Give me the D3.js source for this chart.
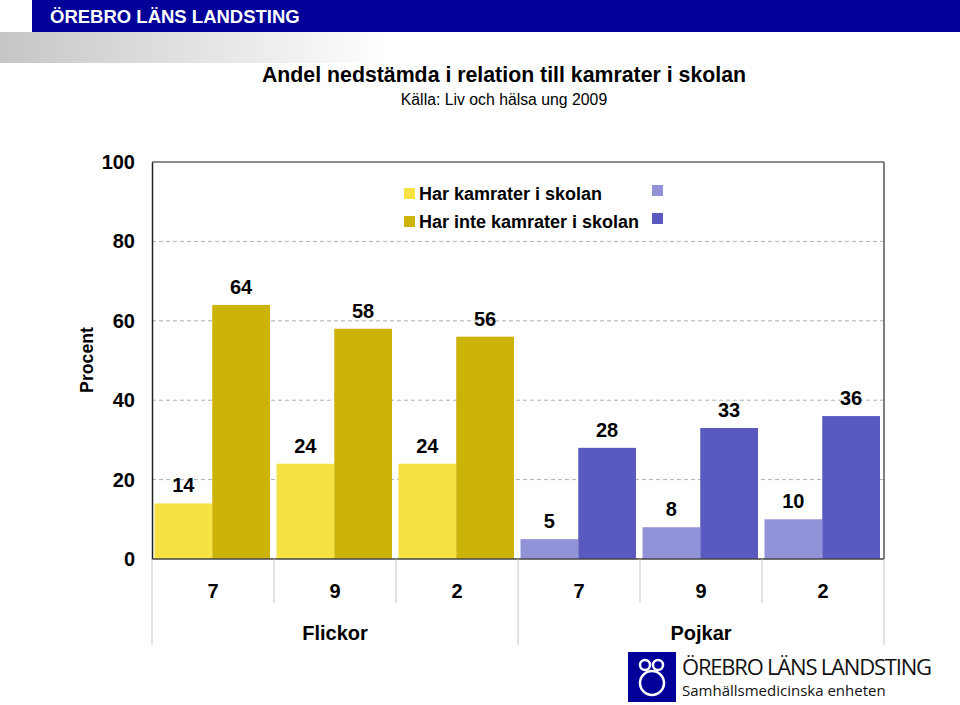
<!DOCTYPE html>
<html><head><meta charset="utf-8">
<script src="https://cdn.jsdelivr.net/npm/d3@7"></script>
<style>body{margin:0;background:#fff;}svg{display:block;font-family:"Liberation Sans",Arial,sans-serif;}</style>
</head><body>
<svg id="c" width="960" height="705"></svg>
<script>
const groups = ["Flickor","Pojkar"];
const grades = ["7","9","2"];
const seriesNames = ["Har kamrater i skolan","Har inte kamrater i skolan"];
const flickorHar = [14,24,24];
const flickorHarInte = [64,58,56];
const pojkarHar = [5,8,10];
const pojkarHarInte = [28,33,36];
const yTicks = [0,20,40,60,80,100];

const colors = {
  Flickor: ["#F7E244","#CCB308"],
  Pojkar: ["#9192D8","#5959C0"]
};

const cats = [];
groups.forEach(g => grades.forEach((gr,i) => {
  const har = g==="Flickor" ? flickorHar[i] : pojkarHar[i];
  const inte = g==="Flickor" ? flickorHarInte[i] : pojkarHarInte[i];
  cats.push({key:g+"-"+gr, group:g, grade:gr, vals:[har,inte]});
}));

const svg = d3.select("#c");

// header
svg.append("rect").attr("x",32).attr("y",0).attr("width",928).attr("height",32).attr("fill","#000099");
svg.append("text").attr("x",50).attr("y",23).attr("fill","#fff").attr("font-size",18.5).attr("font-weight","bold").text("ÖREBRO LÄNS LANDSTING");
const defs = svg.append("defs");
const grad = defs.append("linearGradient").attr("id","gg");
grad.append("stop").attr("offset","0%").attr("stop-color","#c6c6c6");
grad.append("stop").attr("offset","100%").attr("stop-color","#ffffff");
svg.append("rect").attr("x",0).attr("y",32).attr("width",390).attr("height",31).attr("fill","url(#gg)");

// titles
svg.append("text").attr("x",504).attr("y",82).attr("text-anchor","middle").attr("font-size",21.3).attr("font-weight","bold").text("Andel nedstämda i relation till kamrater i skolan");
svg.append("text").attr("x",504).attr("y",105).attr("text-anchor","middle").attr("font-size",15.8).text("Källa: Liv och hälsa ung 2009");

const L=152, R=884, T=162, B=559;
const y = d3.scaleLinear().domain([0,100]).range([B,T]);
const x = d3.scaleBand().domain(cats.map(d=>d.key)).range([L,R]).paddingInner(0).paddingOuter(0);
const bw = x.bandwidth();

// grid
svg.append("g").selectAll("line").data(yTicks.filter(t=>t>0&&t<100)).join("line")
  .attr("x1",L).attr("x2",R).attr("y1",d=>y(d)).attr("y2",d=>y(d))
  .attr("stroke","#b0b0b0").attr("stroke-dasharray","4,3").attr("stroke-width",1);

// bars
const sub = d3.scaleBand().domain([0,1]).range([2.5, bw-4]);
const gBars = svg.append("g");
cats.forEach(c=>{
  c.vals.forEach((v,j)=>{
    gBars.append("rect")
      .attr("x", x(c.key)+sub(j)).attr("width", sub.bandwidth())
      .attr("y", y(v)).attr("height", B-y(v))
      .attr("fill", colors[c.group][j]);
    gBars.append("text")
      .attr("x", x(c.key)+sub(j)+sub.bandwidth()/2).attr("y", y(v)-11)
      .attr("text-anchor","middle").attr("font-size",20).attr("font-weight","bold")
      .text(v);
  });
});

// frame
svg.append("line").attr("x1",L).attr("x2",R).attr("y1",T).attr("y2",T).attr("stroke","#666").attr("stroke-width",1.5);
svg.append("line").attr("x1",R).attr("x2",R).attr("y1",T).attr("y2",B).attr("stroke","#555").attr("stroke-width",1.5);

// y axis
const yAxis = d3.axisLeft(y).tickValues(yTicks).tickSize(0).tickPadding(17);
const ya = svg.append("g").attr("transform",`translate(${L},0)`).call(yAxis);
ya.select(".domain").attr("stroke","#222").attr("stroke-width",1.5);
ya.selectAll("text").attr("font-size",20).attr("font-weight","bold").attr("fill","#000").attr("font-family","Liberation Sans, Arial, sans-serif");

svg.append("text").attr("transform","translate(93,360) rotate(-90)").attr("text-anchor","middle")
  .attr("font-size",17.7).attr("font-weight","bold").text("Procent");

// x axis baseline
svg.append("line").attr("x1",L).attr("x2",R).attr("y1",B).attr("y2",B).attr("stroke","#444").attr("stroke-width",1.5);

// category separators
const seps = d3.range(cats.length+1).map(i=> i<cats.length ? x(cats[i].key) : R);
svg.append("g").selectAll("line").data(seps).join("line")
  .attr("x1",d=>d).attr("x2",d=>d).attr("y1",B)
  .attr("y2",(d,i)=> (i===0||i===3||i===6) ? 645 : 603)
  .attr("stroke","#c8c8c8").attr("stroke-width",1);

// grade labels
svg.append("g").selectAll("text").data(cats).join("text")
  .attr("x",d=>x(d.key)+bw/2).attr("y",598).attr("text-anchor","middle")
  .attr("font-size",20).attr("font-weight","bold").text(d=>d.grade);

// group labels
groups.forEach((g,gi)=>{
  const x0 = x(g+"-"+grades[0]);
  svg.append("text").attr("x",x0+bw*1.5).attr("y",640).attr("text-anchor","middle")
    .attr("font-size",20).attr("font-weight","bold").text(g);
});

// legend
const lg = svg.append("g");
seriesNames.forEach((n,i)=>{
  const yy = 188 + i*28;
  lg.append("rect").attr("x",404).attr("y",yy).attr("width",11).attr("height",11).attr("fill",colors.Flickor[i]);
  lg.append("text").attr("x",419).attr("y",yy+12).attr("font-size",18).attr("font-weight","bold").text(n);
  lg.append("rect").attr("x",652).attr("y",yy-3).attr("width",11).attr("height",11).attr("fill",colors.Pojkar[i]);
});

// bottom logo
const lgo = svg.append("g");
lgo.append("rect").attr("x",628).attr("y",652).attr("width",48).attr("height",50).attr("fill","#000099");
lgo.append("circle").attr("cx",645).attr("cy",665).attr("r",5).attr("fill","none").attr("stroke","#fff").attr("stroke-width",2.5);
lgo.append("circle").attr("cx",658).attr("cy",665).attr("r",5).attr("fill","none").attr("stroke","#fff").attr("stroke-width",2.5);
lgo.append("circle").attr("cx",652).attr("cy",683).attr("r",12).attr("fill","none").attr("stroke","#fff").attr("stroke-width",2.5);
lgo.append("text").attr("x",682).attr("y",675).attr("font-size",22).attr("font-family","Open Sans, sans-serif").attr("fill","#111").attr("textLength",250).text("ÖREBRO LÄNS LANDSTING");
lgo.append("text").attr("x",682).attr("y",696).attr("font-size",15).attr("font-family","Open Sans, sans-serif").attr("fill","#111").text("Samhällsmedicinska enheten");
</script>
</body></html>
